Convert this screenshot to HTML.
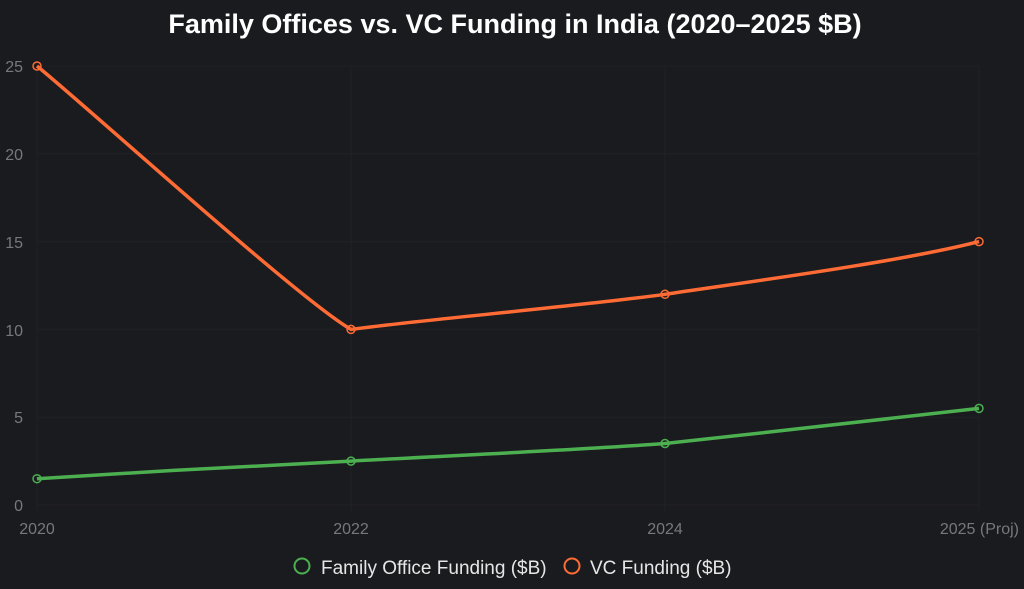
<!DOCTYPE html>
<html><head><meta charset="utf-8"><style>
html,body{margin:0;padding:0;background:#1a1b1f;}
svg{display:block;font-family:"Liberation Sans",Arial,sans-serif;}
</style></head><body>
<svg width="1024" height="589" viewBox="0 0 1024 589">
<rect width="1024" height="589" fill="#1a1b1f"/>
<text x="515" y="33" text-anchor="middle" font-size="27" font-weight="bold" fill="#ffffff">Family Offices vs. VC Funding in India (2020–2025 $B)</text>
<g stroke="#212226" stroke-width="1">
<line x1="37" y1="66" x2="979" y2="66"/>
<line x1="37" y1="153.8" x2="979" y2="153.8"/>
<line x1="37" y1="241.6" x2="979" y2="241.6"/>
<line x1="37" y1="329.4" x2="979" y2="329.4"/>
<line x1="37" y1="417.2" x2="979" y2="417.2"/>
<line x1="37" y1="505" x2="979" y2="505"/>
<line x1="37" y1="66" x2="37" y2="512"/>
<line x1="351" y1="66" x2="351" y2="512"/>
<line x1="665" y1="66" x2="665" y2="512"/>
<line x1="979" y1="66" x2="979" y2="512"/>
</g>
<g font-size="16" fill="#77787c" text-anchor="end">
<text x="23" y="72">25</text>
<text x="23" y="160">20</text>
<text x="23" y="248">15</text>
<text x="23" y="336">10</text>
<text x="23" y="423">5</text>
<text x="23" y="511">0</text>
</g>
<g font-size="16" fill="#77787c">
<text x="37" y="534" text-anchor="middle">2020</text>
<text x="351" y="534" text-anchor="middle">2022</text>
<text x="665" y="534" text-anchor="middle">2024</text>
<text x="1019" y="534" text-anchor="end">2025 (Proj)</text>
</g>
<path d="M37,66 C100,118 300,300 351,329.4 C420,320 590,305 665,294.3 C740,283 900,262 979,241.6" fill="none" stroke="#ff6b35" stroke-width="3.5"/>
<path d="M37,478.7 C140,472 250,466 351,461.1 C460,455 580,450 665,443.5 C770,432 880,420 979,408.4" fill="none" stroke="#4caf50" stroke-width="3.5"/>
<g fill="none" stroke="#ff6b35" stroke-width="1.5">
<circle cx="37" cy="66" r="4"/><circle cx="351" cy="329.4" r="4"/><circle cx="665" cy="294.3" r="4"/><circle cx="979" cy="241.6" r="4"/>
</g>
<g fill="none" stroke="#4caf50" stroke-width="1.5">
<circle cx="37" cy="478.7" r="4"/><circle cx="351" cy="461.1" r="4"/><circle cx="665" cy="443.5" r="4"/><circle cx="979" cy="408.4" r="4"/>
</g>
<circle cx="302" cy="566" r="7.5" fill="none" stroke="#4caf50" stroke-width="2"/>
<text x="321" y="574" font-size="19" fill="#e6e6e6">Family Office Funding ($B)</text>
<circle cx="572" cy="566" r="7.5" fill="none" stroke="#ff6b35" stroke-width="2"/>
<text x="590" y="574" font-size="19" fill="#e6e6e6">VC Funding ($B)</text>
</svg>
</body></html>
